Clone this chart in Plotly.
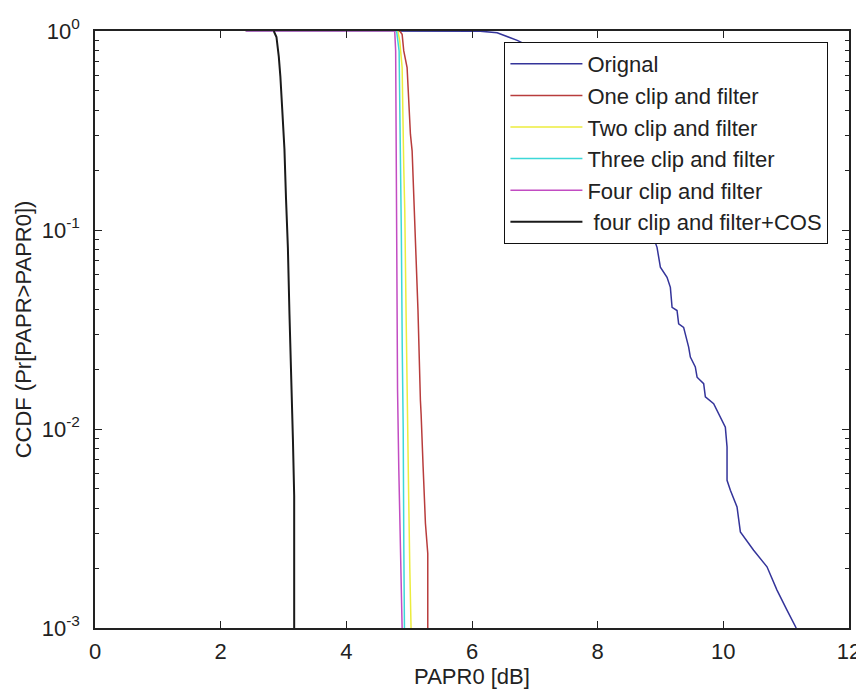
import plotly.graph_objects as go

# ---------------- data ----------------
x_orig = [4.0, 5.8, 6.13, 6.4, 6.72, 7.0, 7.5, 8.0, 8.5, 8.945, 8.998, 9.104, 9.157, 9.184,
          9.263, 9.289, 9.368, 9.448, 9.475, 9.554, 9.582, 9.687, 9.714, 9.846, 10.005,
          10.032, 10.059, 10.059, 10.112, 10.218, 10.271, 10.482, 10.695, 10.854, 11.013,
          11.146, 11.16]
p_orig = [1, 1, 0.998, 0.98, 0.897, 0.813, 0.603, 0.380, 0.200, 0.0818, 0.0650, 0.0578,
          0.0515, 0.0409, 0.0394, 0.0338, 0.0324, 0.0258, 0.0230, 0.0205, 0.0182, 0.0169,
          0.0145, 0.0134, 0.0106, 0.0102, 0.00813, 0.00552, 0.00492, 0.00406, 0.00304,
          0.00246, 0.00203, 0.00155, 0.00123, 0.00102, 0.001]

x_one = [2.4, 4.85, 4.888, 4.914, 4.967, 4.993, 5.02, 5.047, 5.073, 5.10, 5.14, 5.179,
         5.19, 5.222, 5.259, 5.296, 5.296]
p_one = [1, 1, 0.962, 0.794, 0.655, 0.446, 0.303, 0.250, 0.152, 0.100, 0.0398, 0.0139,
         0.0119, 0.00644, 0.00335, 0.00237, 0.001]

x_two = [2.4, 4.82, 4.85, 4.888, 4.914, 4.93, 4.95, 4.967, 4.993, 5.01, 5.03]
p_two = [1, 1, 0.891, 0.655, 0.206, 0.126, 0.0398, 0.0139, 0.00439, 0.002, 0.001]

x_three = [2.4, 4.80, 4.84, 4.86, 4.875, 4.89, 4.905, 4.915, 4.925]
p_three = [1, 1, 0.794, 0.316, 0.1, 0.0251, 0.01, 0.00251, 0.001]

x_four = [2.4, 4.77, 4.785, 4.795, 4.80, 4.815, 4.835, 4.86, 4.875, 4.888]
p_four = [1, 1, 0.794, 0.251, 0.1, 0.0158, 0.0063, 0.00282, 0.00158, 0.001]

x_cos = [2.845, 2.888, 2.925, 2.95, 2.98, 3.015, 3.04, 3.07, 3.095, 3.12, 3.15, 3.17, 3.17]
p_cos = [1, 0.933, 0.743, 0.592, 0.403, 0.255, 0.144, 0.0809, 0.0377, 0.0163, 0.00883,
         0.00461, 0.001]

series_names = ["Orignal", "One clip and filter", "Two clip and filter",
                "Three clip and filter", "Four clip and filter",
                "\u00a0four clip and filter+COS"]

x_tickvals = [0, 2, 4, 6, 8, 10, 12]
y_tickvals = [1, 0.1, 0.01, 0.001]
y_ticktext = ["10<sup>0</sup>", "10<sup>-1</sup>", "10<sup>-2</sup>", "10<sup>-3</sup>"]
y_minor = [m * d for d in (0.001, 0.01, 0.1) for m in range(2, 10)]

# ---------------- figure ----------------
colors = ["#34349a", "#b83c3c", "#ecec3c", "#3cd8d8", "#c24cc2", "#1a1a1a"]
widths = [1.5, 1.5, 1.5, 1.5, 1.5, 2]
xs = [x_orig, x_one, x_two, x_three, x_four, x_cos]
ps = [p_orig, p_one, p_two, p_three, p_four, p_cos]

fig = go.Figure()
for name, xv, pv, c, w in zip(series_names, xs, ps, colors, widths):
    fig.add_trace(go.Scatter(x=xv, y=pv, mode="lines", name=name,
                             line=dict(color=c, width=w)))

font_family = "Liberation Sans, Arial, sans-serif"
axis_common = dict(showgrid=False, zeroline=False, showline=True, linecolor="#222",
                   linewidth=1.5, ticks="inside", ticklen=7, tickwidth=1.2,
                   tickcolor="#222", mirror="ticks", automargin=False,
                   tickfont=dict(family=font_family, size=22, color="#222"))

# the page body adds an 8px offset, so the figure is 8px smaller on each side
fig.update_layout(
    width=856, height=685,
    margin=dict(l=86.5, r=15, t=22.5, b=65),
    paper_bgcolor="white", plot_bgcolor="white",
    font=dict(family=font_family, color="#222"),
    showlegend=True,
    legend=dict(x=0.543, y=0.9816, xanchor="left", yanchor="top",
                bgcolor="white", bordercolor="#111", borderwidth=1,
                font=dict(family=font_family, size=22, color="#222"),
                itemwidth=72, tracegroupgap=0),
    xaxis=dict(range=[0, 12], tickmode="array", tickvals=x_tickvals,
               ticklabelstandoff=3,
               title=dict(text="PAPR0 [dB]", font=dict(family=font_family, size=22, color="#222"),
                          standoff=5),
               **axis_common),
    yaxis=dict(type="log", range=[-3, 0], tickmode="array", tickvals=y_tickvals,
               ticktext=y_ticktext, ticklabelstandoff=9,
               minor=dict(tickmode="array", tickvals=y_minor, ticks="inside", ticklen=4,
                          tickcolor="#222", tickwidth=1),
               title=dict(text="CCDF (Pr[PAPR>PAPR0])",
                          font=dict(family=font_family, size=22, color="#222"), standoff=4),
               **axis_common),
)

fig.write_html("out.html")
